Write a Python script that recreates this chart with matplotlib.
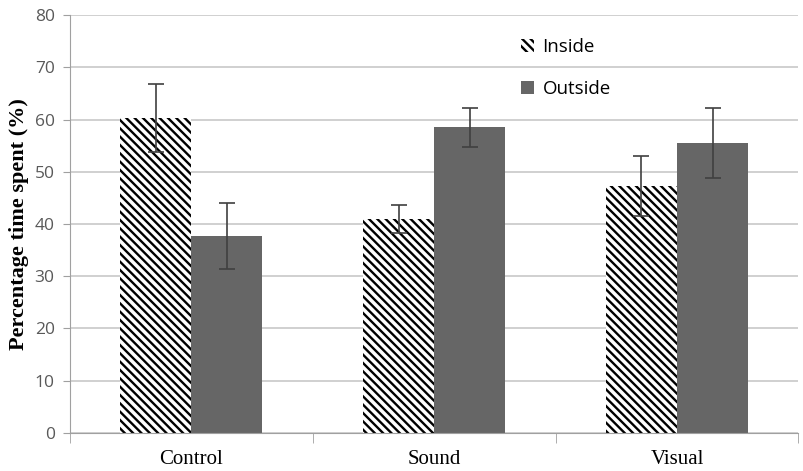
import matplotlib.pyplot as plt
import numpy as np

# data
groups = ['Control', 'Sound', 'Visual']
inside = [60.3, 41.0, 47.3]
inside_err = [6.5, 2.7, 5.7]
outside = [37.7, 58.5, 55.5]
outside_err = [6.3, 3.7, 6.7]

plt.rcParams['hatch.linewidth'] = 1.7

fig = plt.figure(figsize=(8.04, 4.71), dpi=100)
ax = fig.add_axes([0.087, 0.081, 0.906, 0.887])

x = np.arange(len(groups))
w = 0.293

ax.bar(x - w/2, inside, w, color='white', edgecolor='black', linewidth=0,
       hatch='\\\\\\\\', label='Inside', zorder=2)
ax.bar(x + w/2, outside, w, color='#666666', linewidth=0, label='Outside', zorder=2)

# error bars
ax.errorbar(x - w/2, inside, yerr=inside_err, fmt='none', ecolor='#404040',
            elinewidth=1.2, capsize=6, capthick=1.2, zorder=3)
ax.errorbar(x + w/2, outside, yerr=outside_err, fmt='none', ecolor='#404040',
            elinewidth=1.2, capsize=6, capthick=1.2, zorder=3)

ax.set_ylim(0, 80)
ax.set_yticks(range(0, 81, 10))
ax.set_xlim(-0.5, 2.5)
ax.set_xticks(x)
ax.set_xticklabels(groups, family='Liberation Serif', fontsize=15)
ax.set_xticks([-0.5, 0.5, 1.5, 2.5], minor=True)
ax.tick_params(axis='x', which='major', length=0, pad=12)
ax.tick_params(axis='x', which='minor', length=7, color='#a0a0a0')
ax.tick_params(axis='y', length=5, color='#a0a0a0', labelcolor='#595959',
               labelsize=12.5, pad=6)
for t in ax.get_yticklabels():
    t.set_family('Open Sans')

ax.grid(axis='y', color='#c8c8c8', linewidth=1.2, zorder=0)
ax.set_axisbelow(True)
for s in ['top', 'right']:
    ax.spines[s].set_visible(False)
for s in ['left', 'bottom']:
    ax.spines[s].set_color('#a0a0a0')

ax.set_ylabel('Percentage time spent (%)', family='Liberation Serif',
              fontweight='bold', fontsize=16, labelpad=4)

ax.legend(loc='upper left', bbox_to_anchor=(0.596, 0.985), frameon=False,
          prop={'family': 'Open Sans', 'size': 13.5}, labelspacing=1.25,
          handlelength=0.7, handleheight=0.7, handletextpad=0.45)

plt.savefig('out.png')
